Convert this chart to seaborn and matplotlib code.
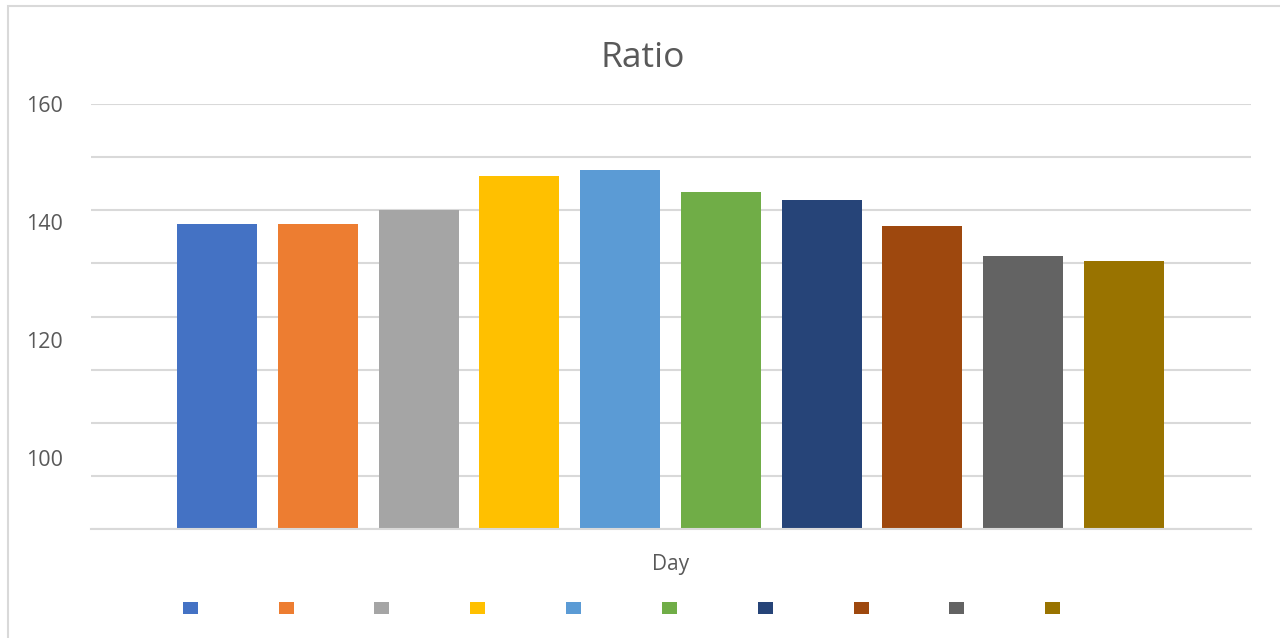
import matplotlib
matplotlib.use("Agg")
import matplotlib.pyplot as plt
from matplotlib.patches import Patch, Rectangle
import seaborn as sns
import pandas as pd

# Daily ratio values, one bar per day
days = ["1", "2", "3", "4", "5", "6", "7", "8", "9", "10"]
ratio = [137.4, 137.4, 140.0, 146.4, 147.5, 143.4, 141.9, 137.0, 131.4, 130.4]
colors = ["#4472C4", "#ED7D31", "#A5A5A5", "#FFC000", "#5B9BD5",
          "#70AD47", "#264478", "#9E480E", "#636363", "#997300"]

# Axis tick values
grid_ticks = [80, 90, 100, 110, 120, 130, 140, 150, 160]
label_ticks = [100, 120, 140, 160]

sns.set_theme(style="white")
plt.rcParams["font.family"] = ["Open Sans", "DejaVu Sans"]

TEXT = "#595959"
GRID = "#D9D9D9"

fig = plt.figure(figsize=(12.8, 6.38), dpi=100)
ax = fig.add_axes([91 / 1280, 1 - 529 / 638, 1160 / 1280, 425 / 638])

df = pd.DataFrame({"day": days, "ratio": ratio})
sns.barplot(data=df, x="day", y="ratio", hue="day", palette=colors,
            dodge=False, legend=False, saturation=1, width=0.794,
            linewidth=0, ax=ax)

ax.set_ylim(80, 160)
ax.set_xlim(-1.25, 10.26)
ax.set_yticks(grid_ticks)
ax.set_yticklabels([])
ax.tick_params(axis="both", length=0)
ax.set_xticks([])
ax.grid(axis="y", color=GRID, linewidth=1.5)
ax.set_axisbelow(True)
for side in ["top", "right", "left"]:
    ax.spines[side].set_visible(False)
ax.spines["bottom"].set_color(GRID)
ax.spines["bottom"].set_linewidth(1.5)
ax.set_ylabel("")
ax.set_xlabel("Day", fontsize=15, color=TEXT, labelpad=18)

# Value labels on the left
lab = ax.twinx()
lab.set_ylim(87.97, 160)
lab.set_yticks(label_ticks)
lab.set_yticklabels([str(v) for v in label_ticks], fontsize=15.5, color=TEXT)
lab.yaxis.tick_left()
lab.tick_params(axis="y", length=0, pad=20)
for side in lab.spines:
    lab.spines[side].set_visible(False)
lab.grid(False)

fig.text(0.5023, 1 - 58 / 638, "Ratio", ha="center", va="center",
         fontsize=25.5, color=TEXT)

handles = [Patch(facecolor=c, edgecolor="none") for c in colors]
fig.legend(handles, [""] * len(handles), ncol=len(handles), loc="center",
           bbox_to_anchor=(621.5 / 1280, 1 - 609.5 / 638), frameon=False,
           fontsize=10, handlelength=1.08, handleheight=0.94,
           handletextpad=0, columnspacing=5.82, borderpad=0)

# Chart area border
fig.patches.append(Rectangle((8 / 1280, -0.1), 1.2, 0.1 + (1 - 6 / 638),
                             transform=fig.transFigure, fill=False,
                             edgecolor=GRID, linewidth=1.5, zorder=0))

fig.savefig("out.png", dpi=100, facecolor="white")
